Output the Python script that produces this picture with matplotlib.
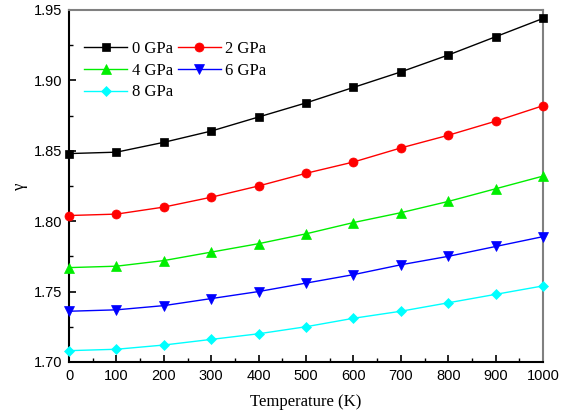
import matplotlib
matplotlib.use("Agg")
import matplotlib.pyplot as plt
from matplotlib.ticker import MultipleLocator, FormatStrFormatter

T = [0, 100, 200, 300, 400, 500, 600, 700, 800, 900, 1000]
g0 = [1.848, 1.849, 1.856, 1.864, 1.874, 1.884, 1.895, 1.906, 1.918, 1.931, 1.944]
g2 = [1.804, 1.805, 1.810, 1.817, 1.825, 1.834, 1.842, 1.852, 1.861, 1.871, 1.882]
g4 = [1.767, 1.768, 1.772, 1.778, 1.784, 1.791, 1.799, 1.806, 1.814, 1.823, 1.832]
g6 = [1.736, 1.737, 1.740, 1.745, 1.750, 1.756, 1.762, 1.769, 1.775, 1.782, 1.789]
g8 = [1.708, 1.709, 1.712, 1.716, 1.720, 1.725, 1.731, 1.736, 1.742, 1.748, 1.754]
labels = ["0 GPa", "2 GPa", "4 GPa", "6 GPa", "8 GPa"]

fig = plt.figure(figsize=(5.71, 4.16), dpi=100)
ax = fig.add_axes([0.121, 0.130, 0.830, 0.846])

series = [g0, g2, g4, g6, g8]
colors = ["black", "red", "#00ee00", "blue", "cyan"]
markers = ["s", "o", "^", "v", "D"]
msizes = [5.5, 6.5, 6.5, 6.5, 5.5]
handles = []
for ys, c, m, ms, lab in zip(series, colors, markers, msizes, labels):
    h, = ax.plot(T, ys, color=c, marker=m, markersize=ms, lw=1, label=lab,
                 markeredgewidth=0.5, clip_on=False, zorder=3)
    handles.append(h)

ax.set_xlim(0, 1000)
ax.set_ylim(1.70, 1.95)
ax.xaxis.set_major_locator(MultipleLocator(100))
ax.xaxis.set_minor_locator(MultipleLocator(50))
ax.yaxis.set_major_locator(MultipleLocator(0.05))
ax.yaxis.set_minor_locator(MultipleLocator(0.025))
ax.yaxis.set_major_formatter(FormatStrFormatter("%.2f"))
ax.tick_params(which="both", direction="in", top=False, right=False)
ax.tick_params(which="major", length=5, width=1.2, pad=5)
ax.tick_params(which="minor", length=3, width=1)
for t in ax.get_xticklabels() + ax.get_yticklabels():
    t.set_family("Liberation Sans")
    t.set_fontsize(10.5)
for s in ["left", "bottom"]:
    ax.spines[s].set_linewidth(1.5)
for s in ["top", "right"]:
    ax.spines[s].set_color("gray")
    ax.spines[s].set_linewidth(1.5)

ax.set_xlabel("Temperature (K)", family="Liberation Serif", fontsize=12, labelpad=8)
ax.set_ylabel("γ", family="Liberation Serif", fontsize=12, labelpad=4)
order = [0, 2, 4, 1, 3]
leg = ax.legend([handles[i] for i in order], [labels[i] for i in order],
                ncol=2, frameon=False, loc="upper left", bbox_to_anchor=(0.0, 0.955),
                prop={"family": "Liberation Serif", "size": 12},
                handlelength=2.6, columnspacing=0.3, handletextpad=0.25,
                labelspacing=0.35, borderaxespad=0.5)
fig.savefig("out.png", dpi=100)
